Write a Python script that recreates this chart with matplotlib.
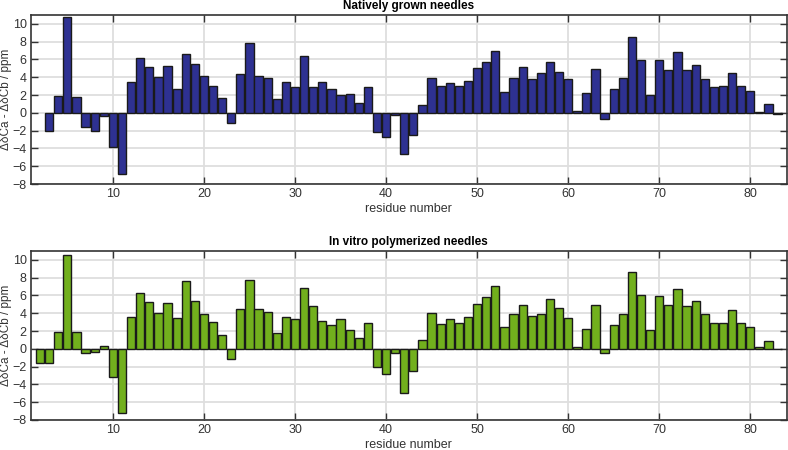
import numpy as np
import matplotlib.pyplot as plt

plt.rcParams['font.family'] = ['Liberation Sans', 'DejaVu Sans']

# residue numbers and secondary chemical shifts (ppm)
res_native = np.arange(3, 84)
native = [-2.0, 1.87, 10.75, 1.76, -1.6, -2.0, -0.4, -3.86, -6.9,
          3.48, 6.2, 5.17, 4.04, 5.24, 2.66, 6.67, 5.54, 4.12, 3.0,
          1.69, -1.16, 4.42, 7.9, 4.16, 3.9, 1.6, 3.48, 2.96, 6.4,
          2.92, 3.52, 2.73, 1.95, 2.13, 1.16, 2.88, -2.2, -2.73, -0.2,
          -4.64, -2.5, 0.86, 3.97, 3.07, 3.37, 3.07, 3.63, 5.09, 5.73,
          6.97, 2.36, 3.97, 5.17, 3.82, 4.46, 5.69, 4.6, 3.75, 0.22,
          2.28, 4.98, -0.64, 2.66, 3.93, 8.54, 5.99, 2.02, 5.92, 4.87,
          6.85, 4.79, 5.39, 3.86, 2.92, 3.03, 4.46, 3.07, 2.51, 0.15,
          0.97, -0.1]

res_vitro = np.arange(2, 84)
vitro = [-1.65, -1.65, 1.84, 10.52, 1.84, -0.49, -0.41, 0.34, -3.22,
         -7.19, 3.6, 6.29, 5.24, 4.08, 5.17, 3.48, 7.57, 5.36, 3.9,
         2.96, 1.54, -1.16, 4.49, 7.79, 4.42, 4.19, 1.76, 3.63, 3.37,
         6.89, 4.76, 3.11, 2.66, 3.37, 2.06, 1.27, 2.92, -1.99, -2.81,
         -0.52, -5.02, -2.51, 1.01, 4.04, 2.77, 3.37, 2.88, 3.6, 5.06,
         5.81, 7.04, 2.4, 3.97, 4.98, 3.67, 3.97, 5.62, 4.64, 3.41,
         0.22, 2.25, 4.91, -0.45, 2.66, 3.86, 8.69, 6.03, 2.06, 5.92,
         4.94, 6.7, 4.76, 5.39, 3.9, 2.88, 2.88, 4.38, 2.92, 2.47,
         0.19, 0.86, -0.07]

fig = plt.figure(figsize=(7.88, 4.5), dpi=100)
ax1 = fig.add_axes([0.0393, 0.5911, 0.959, 0.3756])
ax2 = fig.add_axes([0.0393, 0.0667, 0.959, 0.3756])

panels = [(ax1, res_native, native, '#2e3192', 'Natively grown needles'),
          (ax2, res_vitro, vitro, '#72b01d', 'In vitro polymerized needles')]

for ax, x, y, col, title in panels:
    ax.bar(x, y, width=0.9, color=col, edgecolor='#1a1a1a', linewidth=1.0, zorder=3)
    ax.set_xlim(1, 84)
    ax.set_ylim(-8, 11)
    ax.set_xticks([10, 20, 30, 40, 50, 60, 70, 80])
    ax.set_yticks(np.arange(-8, 11, 2))
    ax.grid(True, color='#dedede', linewidth=1.3, zorder=0)
    ax.tick_params(direction='in', top=True, right=True, length=5, width=1,
                   color='#333333', labelsize=9, labelcolor='#333333', pad=3)
    for s in ax.spines.values():
        s.set_color('#333333')
        s.set_linewidth(1.2)
    ax.set_title(title, fontsize=8.5, fontweight='bold', pad=4)
    ax.set_xlabel('residue number', fontsize=9, color='#333333', labelpad=2)
    ax.set_ylabel('ΔδCa - ΔδCb / ppm', fontsize=8.5, color='#333333')
    ax.yaxis.set_label_coords(-0.025, 0.5)

fig.savefig('out.png', dpi=100)
